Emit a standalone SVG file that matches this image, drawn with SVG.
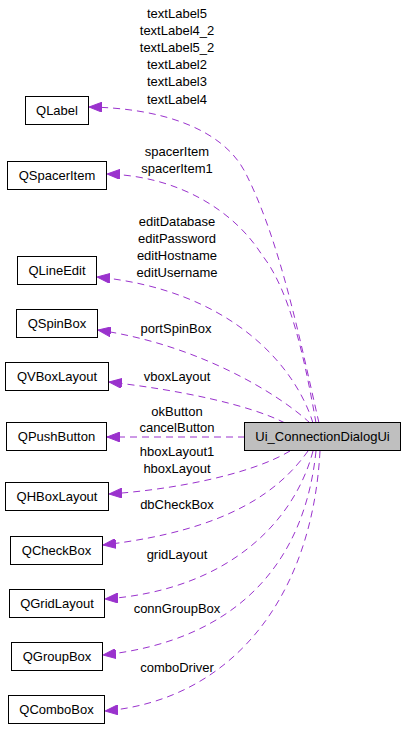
<svg xmlns="http://www.w3.org/2000/svg" width="405" height="731" viewBox="0 0 405 731">
<style>
.box{fill:#ffffff;stroke:#000000;stroke-width:1}
.main{fill:#bfbfbf;stroke:#000000;stroke-width:1}
text{font-family:"Liberation Sans",Arial,sans-serif;font-size:13px;fill:#000000;text-anchor:middle}
.e{fill:none;stroke:#9a32cd;stroke-width:1;stroke-dasharray:7,5;marker-end:url(#arr)}
</style>
<defs>
<marker id="arr" markerUnits="userSpaceOnUse" viewBox="0 0 13 10" refX="13" refY="5" markerWidth="13" markerHeight="10" orient="auto">
<path d="M0,0 L13,5 L0,10 z" fill="#9a32cd" stroke="#9a32cd" stroke-width="1"/>
</marker>
</defs>
<rect width="405" height="731" fill="#ffffff"/>
<g id="connectors">
<path class="e" d="M319,423 C300,340 280,240 245,172 C222,128 160,108 89,107"/>
<path class="e" d="M316,423 C305,360 290,290 262,255 C235,212 180,176 107,174"/>
<path class="e" d="M313,423 C295,365 230,290 97,277"/>
<path class="e" d="M310,423 C280,395 200,345 98,330"/>
<path class="e" d="M285,423 C250,405 180,390 109,382"/>
<path class="e" d="M245,437 L107,437"/>
<path class="e" d="M290,451 C250,475 170,490 109,494"/>
<path class="e" d="M308,451 C280,490 230,530 103,545"/>
<path class="e" d="M313,451 C295,520 230,590 105,599"/>
<path class="e" d="M316,451 C305,560 240,640 103,655"/>
<path class="e" d="M320,451 C312,600 230,700 105,711"/>
<text x="177" y="17.5">textLabel5</text>
<text x="177" y="34.7">textLabel4_2</text>
<text x="177" y="51.9">textLabel5_2</text>
<text x="177" y="69.1">textLabel2</text>
<text x="177" y="86.3">textLabel3</text>
<text x="177" y="103.5">textLabel4</text>
<text x="177" y="155.5">spacerItem</text>
<text x="177" y="172.5">spacerItem1</text>
<text x="177" y="225.5">editDatabase</text>
<text x="177" y="242.5">editPassword</text>
<text x="177" y="259.5">editHostname</text>
<text x="177" y="276.5">editUsername</text>
<text x="176" y="332.5">portSpinBox</text>
<text x="177" y="380.5">vboxLayout</text>
<text x="177" y="415.5">okButton</text>
<text x="177" y="431.5">cancelButton</text>
<text x="177" y="455.5">hboxLayout1</text>
<text x="177" y="472.5">hboxLayout</text>
<text x="177" y="508.5">dbCheckBox</text>
<text x="177" y="558.5">gridLayout</text>
<text x="177" y="612.5">connGroupBox</text>
<text x="177" y="671.5">comboDriver</text>
</g>
<g id="Ui_ConnectionDialogUi"><rect class="main" x="244.5" y="422.5" width="156" height="28"/><text x="322.5" y="441">Ui_ConnectionDialogUi</text></g>
<g id="QLabel"><rect class="box" x="25.5" y="96.5" width="63" height="28"/><text x="57" y="115">QLabel</text></g>
<g id="QSpacerItem"><rect class="box" x="7.5" y="161.5" width="99" height="28"/><text x="57" y="180">QSpacerItem</text></g>
<g id="QLineEdit"><rect class="box" x="17.5" y="256.5" width="79" height="28"/><text x="57" y="275">QLineEdit</text></g>
<g id="QSpinBox"><rect class="box" x="16.5" y="309.5" width="81" height="28"/><text x="57" y="328">QSpinBox</text></g>
<g id="QVBoxLayout"><rect class="box" x="5.5" y="362.5" width="103" height="28"/><text x="57" y="381">QVBoxLayout</text></g>
<g id="QPushButton"><rect class="box" x="6.5" y="422.5" width="100" height="28"/><text x="56.5" y="441">QPushButton</text></g>
<g id="QHBoxLayout"><rect class="box" x="5.5" y="482.5" width="103" height="28"/><text x="57" y="501">QHBoxLayout</text></g>
<g id="QCheckBox"><rect class="box" x="10.5" y="536.5" width="92" height="28"/><text x="56.5" y="555">QCheckBox</text></g>
<g id="QGridLayout"><rect class="box" x="9.5" y="589.5" width="95" height="28"/><text x="57" y="608">QGridLayout</text></g>
<g id="QGroupBox"><rect class="box" x="11.5" y="642.5" width="91" height="28"/><text x="57" y="661">QGroupBox</text></g>
<g id="QComboBox"><rect class="box" x="8.5" y="695.5" width="96" height="28"/><text x="56.5" y="714">QComboBox</text></g>
</svg>
